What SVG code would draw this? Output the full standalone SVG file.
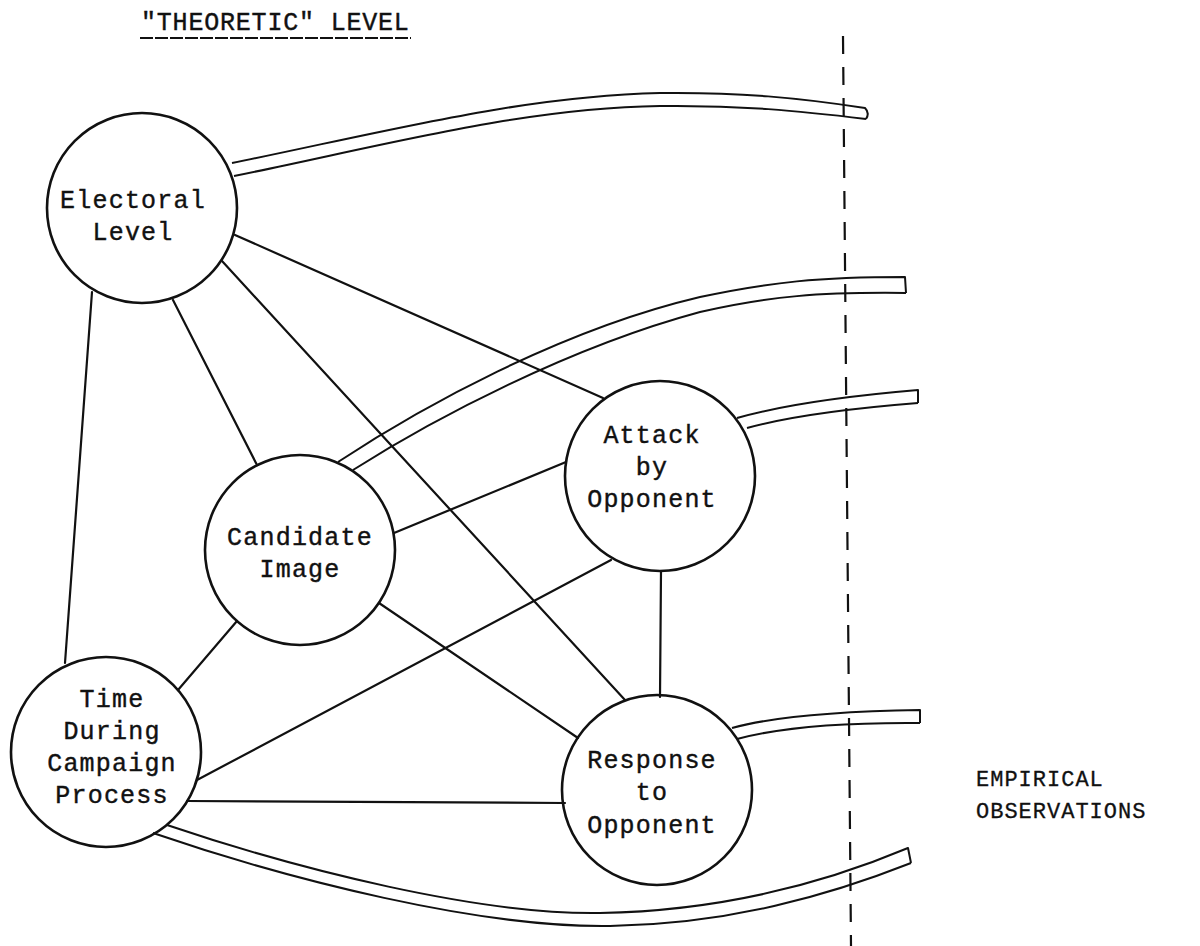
<svg xmlns="http://www.w3.org/2000/svg" width="1200" height="946" viewBox="0 0 1200 946">
<style>
.node circle{fill:none;stroke:#111;stroke-width:2.6}
.lbl{font-family:"Liberation Mono","Courier New",monospace;font-size:25px;letter-spacing:1.2px;fill:#111;stroke:#111;stroke-width:0.4;text-anchor:middle}
.edge{stroke:#111;stroke-width:2.2;fill:none;stroke-linecap:round}
.tube{stroke:#111;stroke-width:2;fill:none;stroke-linejoin:round}
.side{font-family:"Liberation Mono","Courier New",monospace;font-size:22px;letter-spacing:1px;fill:#111;stroke:#111;stroke-width:0.3}
</style>
<rect width="1200" height="946" fill="#fff"/>
<g id="title">
<text x="141" y="30" font-family="Liberation Mono, monospace" font-size="25" letter-spacing="0.8" fill="#111" stroke="#111" stroke-width="0.4">"THEORETIC" LEVEL</text>
<line x1="140" y1="38" x2="411" y2="38" stroke="#111" stroke-width="1.8" stroke-dasharray="13 2"/>
</g>
<g id="divider">
<line x1="843" y1="36" x2="851" y2="946" stroke="#111" stroke-width="2.2" stroke-dasharray="18 13"/>
</g>
<g id="empirical">
<text class="side" x="976" y="786">EMPIRICAL</text>
<text class="side" x="976" y="818">OBSERVATIONS</text>
</g>
<g id="connectors">
<line class="edge" x1="92" y1="292" x2="65" y2="663"/>
<line class="edge" x1="173" y1="300" x2="257" y2="465"/>
<line class="edge" x1="222" y1="261" x2="625" y2="700"/>
<line class="edge" x1="235" y1="235" x2="603" y2="398"/>
<line class="edge" x1="394" y1="533" x2="566" y2="462"/>
<line class="edge" x1="379" y1="603" x2="578" y2="738"/>
<line class="edge" x1="237" y1="621" x2="178" y2="690"/>
<line class="edge" x1="197" y1="780" x2="611" y2="560"/>
<line class="edge" x1="661" y1="571" x2="660" y2="697"/>
<line class="edge" x1="187" y1="801" x2="565" y2="803"/>
</g>
<g id="tubes">
<path class="tube" d="M232,163 C380,133 520,96 660,93 C740,92 800,98 865,108 Q870,113 866,119"/>
<path class="tube" d="M234,176 C382,146 520,108 660,106 C740,105 800,111 866,119"/>
<path class="tube" d="M338,462 C420,408 560,330 700,297 C770,282 820,277 905,277 L906,293"/>
<path class="tube" d="M353,470 C435,418 570,347 700,312 C770,296 820,292 906,293"/>
<path class="tube" d="M737,418 Q800,400 918,390 L918,403"/>
<path class="tube" d="M747,428 Q805,412 918,403"/>
<path class="tube" d="M732,728 Q790,712 920,710 L920,723"/>
<path class="tube" d="M737,739 Q800,722 920,723"/>
<path class="tube" d="M167,825 C300,870 480,915 600,913 C720,911 820,885 908,848 L911,863"/>
<path class="tube" d="M153,833 C290,880 480,928 610,926 C730,924 830,895 911,863"/>
</g>
<g id="electoral" class="node">
<circle cx="142" cy="208" r="95"/>
<text class="lbl" x="133" y="208">Electoral</text>
<text class="lbl" x="133" y="240">Level</text>
</g>
<g id="candidate" class="node">
<circle cx="300" cy="550" r="95"/>
<text class="lbl" x="300" y="545">Candidate</text>
<text class="lbl" x="300" y="577">Image</text>
</g>
<g id="attack" class="node">
<circle cx="660" cy="476" r="95"/>
<text class="lbl" x="652" y="443">Attack</text>
<text class="lbl" x="652" y="475">by</text>
<text class="lbl" x="652" y="507">Opponent</text>
</g>
<g id="time" class="node">
<circle cx="106" cy="752" r="95"/>
<text class="lbl" x="112" y="707">Time</text>
<text class="lbl" x="112" y="739">During</text>
<text class="lbl" x="112" y="771">Campaign</text>
<text class="lbl" x="112" y="803">Process</text>
</g>
<g id="response" class="node">
<circle cx="657" cy="790" r="95"/>
<text class="lbl" x="652" y="768">Response</text>
<text class="lbl" x="652" y="800">to</text>
<text class="lbl" x="652" y="833">Opponent</text>
</g>
</svg>
